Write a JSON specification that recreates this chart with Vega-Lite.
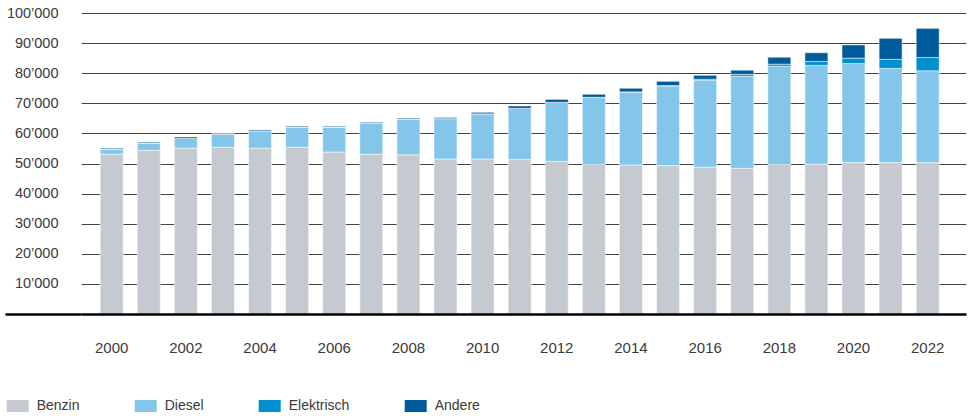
{
  "$schema": "https://vega.github.io/schema/vega-lite/v6.json",
  "autosize": {"type": "none"},
  "width": 885,
  "height": 301,
  "padding": {"left": 81, "top": 13, "right": 4, "bottom": 102},
  "background": "white",
  "data": {
    "values": [
      {"Jahr": "2000", "Benzin": 53100, "Diesel": 1700, "Elektrisch": 0, "Andere": 300},
      {"Jahr": "2001", "Benzin": 54400, "Diesel": 2400, "Elektrisch": 0, "Andere": 300},
      {"Jahr": "2002", "Benzin": 55100, "Diesel": 3200, "Elektrisch": 0, "Andere": 500},
      {"Jahr": "2003", "Benzin": 55400, "Diesel": 4300, "Elektrisch": 0, "Andere": 200},
      {"Jahr": "2004", "Benzin": 55100, "Diesel": 5600, "Elektrisch": 0, "Andere": 400},
      {"Jahr": "2005", "Benzin": 55400, "Diesel": 6700, "Elektrisch": 0, "Andere": 300},
      {"Jahr": "2006", "Benzin": 53800, "Diesel": 8300, "Elektrisch": 0, "Andere": 300},
      {"Jahr": "2007", "Benzin": 53100, "Diesel": 10300, "Elektrisch": 0, "Andere": 300},
      {"Jahr": "2008", "Benzin": 52900, "Diesel": 11900, "Elektrisch": 0, "Andere": 300},
      {"Jahr": "2009", "Benzin": 51500, "Diesel": 13400, "Elektrisch": 0, "Andere": 400},
      {"Jahr": "2010", "Benzin": 51500, "Diesel": 15000, "Elektrisch": 0, "Andere": 500},
      {"Jahr": "2011", "Benzin": 51300, "Diesel": 17000, "Elektrisch": 0, "Andere": 800},
      {"Jahr": "2012", "Benzin": 50700, "Diesel": 19600, "Elektrisch": 0, "Andere": 1000},
      {"Jahr": "2013", "Benzin": 49700, "Diesel": 22200, "Elektrisch": 100, "Andere": 1000},
      {"Jahr": "2014", "Benzin": 49500, "Diesel": 24100, "Elektrisch": 200, "Andere": 1200},
      {"Jahr": "2015", "Benzin": 49300, "Diesel": 26300, "Elektrisch": 300, "Andere": 1400},
      {"Jahr": "2016", "Benzin": 48800, "Diesel": 28800, "Elektrisch": 400, "Andere": 1300},
      {"Jahr": "2017", "Benzin": 48400, "Diesel": 30600, "Elektrisch": 600, "Andere": 1400},
      {"Jahr": "2018", "Benzin": 49700, "Diesel": 32600, "Elektrisch": 700, "Andere": 2300},
      {"Jahr": "2019", "Benzin": 49800, "Diesel": 32800, "Elektrisch": 1300, "Andere": 2900},
      {"Jahr": "2020", "Benzin": 50300, "Diesel": 32900, "Elektrisch": 1800, "Andere": 4400},
      {"Jahr": "2021", "Benzin": 50300, "Diesel": 31300, "Elektrisch": 3000, "Andere": 7000},
      {"Jahr": "2022", "Benzin": 50300, "Diesel": 30500, "Elektrisch": 4400, "Andere": 9700}
    ]
  },
  "transform": [
    {"fold": ["Benzin", "Diesel", "Elektrisch", "Andere"], "as": ["Antrieb", "Anzahl"]},
    {"calculate": "indexof(['Benzin', 'Diesel', 'Elektrisch', 'Andere'], datum.Antrieb)", "as": "Reihenfolge"}
  ],
  "mark": {"type": "bar", "stroke": "white", "strokeWidth": 1, "strokeOpacity": 0.5},
  "encoding": {
    "x": {
      "field": "Jahr",
      "type": "ordinal",
      "scale": {"paddingInner": 0.38, "paddingOuter": 0.62, "align": 0.417},
      "axis": {
        "title": null,
        "values": ["2000", "2002", "2004", "2006", "2008", "2010", "2012", "2014", "2016", "2018", "2020", "2022"],
        "labelAngle": 0,
        "ticks": false,
        "grid": false,
        "domain": true,
        "domainColor": "#000000",
        "domainWidth": 2.6,
        "labelPadding": 26,
        "labelFont": "Liberation Sans",
        "labelFontSize": 15,
        "labelColor": "#3a3a3a",
        "zindex": 1
      }
    },
    "y": {
      "field": "Anzahl",
      "type": "quantitative",
      "stack": "zero",
      "scale": {"domain": [0, 100000], "nice": false},
      "axis": {
        "title": null,
        "values": [0, 10000, 20000, 30000, 40000, 50000, 60000, 70000, 80000, 90000, 100000],
        "domain": false,
        "ticks": true,
        "tickSize": 76,
        "tickColor": {"condition": {"test": "datum.value === 0", "value": "#000000"}, "value": "transparent"},
        "tickWidth": {"condition": {"test": "datum.value === 0", "value": 2.6}, "value": 0},
        "labelPadding": -53,
        "labelExpr": "datum.value === 0 ? '' : replace(format(datum.value, ','), ',', '’')",
        "grid": true,
        "gridColor": {"condition": {"test": "datum.value === 0", "value": "transparent"}, "value": "#444444"},
        "gridWidth": 1,
        "labelFont": "Liberation Sans",
        "labelFontSize": 14.5,
        "labelColor": "#3a3a3a"
      }
    },
    "order": {"field": "Reihenfolge", "type": "quantitative", "sort": "ascending"},
    "color": {
      "field": "Antrieb",
      "type": "nominal",
      "sort": ["Benzin", "Diesel", "Elektrisch", "Andere"],
      "scale": {
        "domain": ["Benzin", "Diesel", "Elektrisch", "Andere"],
        "range": ["#c4cad0", "#84c5ea", "#0090d2", "#005b9b"]
      },
      "legend": {
        "title": null,
        "orient": "none",
        "direction": "horizontal",
        "legendX": -74.3,
        "legendY": 382,
        "padding": 0,
        "symbolType": "M-1,-0.545H1V0.545H-1Z",
        "symbolSize": 484,
        "symbolStrokeWidth": 0,
        "symbolOpacity": 1,
        "labelOffset": 8,
        "columnPadding": 55,
        "labelFont": "Liberation Sans",
        "labelFontSize": 14,
        "labelColor": "#3a3a3a"
      }
    }
  },
  "config": {"view": {"stroke": null}}
}
